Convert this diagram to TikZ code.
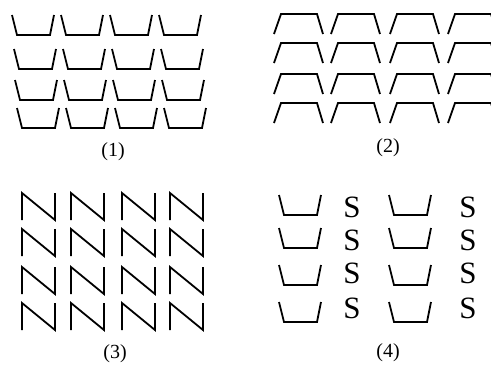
\documentclass[tikz,border=0pt]{standalone}
\usepackage{fontspec}
\setmainfont{Liberation Serif}
\usepackage{tikz}
\tikzset{
 stroke/.style={draw=black, line width=1.8pt, line join=miter},
 lbl/.style={font=\fontsize{20}{20}\selectfont, inner sep=0pt},
 letter/.style={font=\fontsize{31}{31}\selectfont, inner sep=0pt},
 pics/cup/.style={code={\draw[stroke] (0,0) -- (5,20) -- (38,20) -- (42,0);}},
 pics/cap/.style={code={\draw[stroke] (0,20) -- (7,0) -- (43,0) -- (49,20);}},
 pics/zig/.style={code={\draw[stroke] (0,27) -- (0,0) -- (33,27) -- (33,0);}},
}

\begin{document}
\begin{tikzpicture}[x=1pt, y=-1pt]
 \clip (0,0) rectangle (491,365);
 \fill[white] (0,0) rectangle (491,365);

 % (1) cups
 \foreach \y/\dx [count=\r] in {15/0, 49/2, 80/3, 108/5}
  \foreach \x in {12, 61, 110, 159}
   \pic at (\x+\dx,\y) {cup};
 \node[lbl] (one) at (113,152) {(1)};

 % (2) caps
 \foreach \y in {14, 43, 74, 103}
  \foreach \x in {274, 331, 390, 448}
   \pic at (\x,\y) {cap};
 \node[lbl] (two) at (388,148) {(2)};

 % (3) zigzags
 \foreach \y in {193, 229, 267, 303}
  \foreach \x in {22, 71, 122, 170}
   \pic at (\x,\y) {zig};
 \node[lbl] (three) at (115,354) {(3)};

 % (4) cups and letters
 \foreach \y/\ys [count=\r] in {195/207, 228/240, 265/273, 302/308} {
  \pic at (279,\y) {cup};
  \pic at (389,\y) {cup};
  \node[letter] (sa\r) at (352,\ys) {S};
  \node[letter] (sb\r) at (468,\ys) {S};
 }
 \node[lbl] (four) at (388,353) {(4)};
\end{tikzpicture}
\end{document}
